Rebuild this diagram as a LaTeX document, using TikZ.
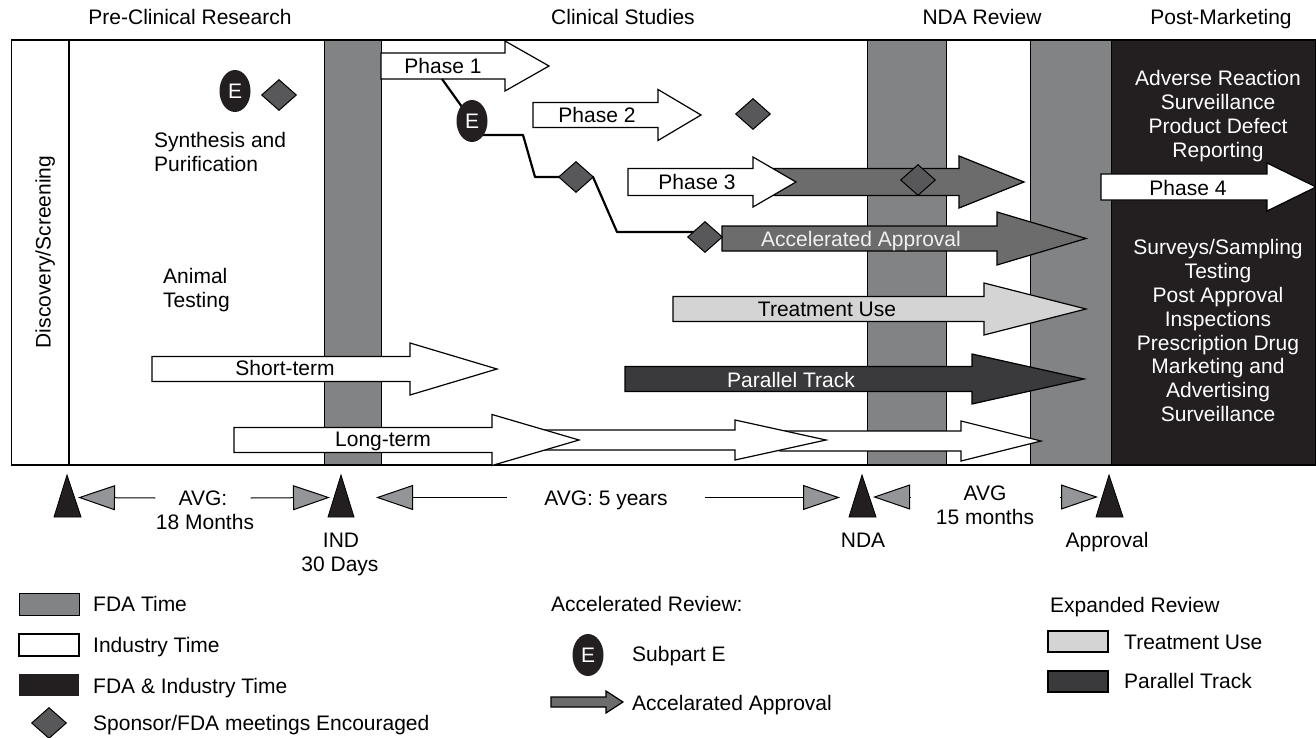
\documentclass[tikz,border=0pt]{standalone}
\usepackage{fontspec}
\setmainfont{Liberation Sans}
\usepackage{tikz}
\usetikzlibrary{arrows.meta,shapes.geometric}
\definecolor{fdagray}{RGB}{130,131,133}
\definecolor{accgray}{RGB}{108,108,108}
\definecolor{metgray}{RGB}{88,88,90}
\definecolor{tipgray}{RGB}{148,149,152}
\definecolor{trtgray}{RGB}{212,212,212}
\definecolor{pargray}{RGB}{58,58,60}
\definecolor{fdablack}{RGB}{35,31,32}
\newcommand{\lblfont}{\fontsize{21}{23.8}\selectfont}
% block arrow: style, left, head base, tip, y, body half, head half
\newcommand{\barrow}[7]{%
  \filldraw[#1] (#2,#5-#6) -- (#3,#5-#6) -- (#3,#5-#7) -- (#4,#5)
    -- (#3,#5+#7) -- (#3,#5+#6) -- (#2,#5+#6) -- cycle;}
\tikzset{%
  tipG/.tip={Triangle[length=37pt,width=25pt,fill=tipgray]},
  lbl/.style={font=\lblfont, inner sep=0pt, text height=15pt, text depth=0pt},
  blk/.style={font=\lblfont, inner sep=0pt, align=center},
  frame/.style={draw=black, line width=1.5pt},
  fdabar/.style={fill=fdagray, draw=black, line width=1pt},
  indarrow/.style={fill=white, draw=black, line width=1.2pt},
  accarrow/.style={fill=accgray, draw=black, line width=1.2pt},
  trtarrow/.style={fill=trtgray, draw=black, line width=1.2pt},
  pararrow/.style={fill=pargray, draw=black, line width=1.2pt},
  meeting/.style={shape=diamond, minimum width=35pt, minimum height=31pt, inner sep=0pt, fill=metgray, draw=black, line width=1pt},
  subE/.style={shape=ellipse, minimum width=31pt, minimum height=42pt, inner sep=0pt, fill=fdablack, text=white, font=\lblfont},
  milestone/.style={fill=fdablack, draw=black, line width=0.8pt},
  track/.style={draw=black, line width=2.2pt, line join=round},
  avgline/.style={draw=black, line width=1pt, -tipG}
}

\begin{document}
\begin{tikzpicture}[x=1pt,y=-1pt]
\useasboundingbox (0,0) rectangle (1316,738);
% headings
\node[lbl] (precl) at (190,17) {Pre-Clinical Research};
\node[lbl] (clin) at (623,17) {Clinical Studies};
\node[lbl] (ndarev) at (982,17) {NDA Review};
\node[lbl] (postm) at (1221,17) {Post-Marketing};
% time bands
\fill[fdablack] (1111,40) rectangle (1316,465);
\filldraw[fdabar] (324,40) rectangle (381,465);
\filldraw[fdabar] (867,40) rectangle (946,465);
\filldraw[fdabar] (1030,40) rectangle (1111,465);
\draw[frame] (11.5,40) rectangle (1316,465);
\draw[frame] (69,40) -- (69,465);
% arrows
\barrow{indarrow}{780}{961}{1041}{441}{10}{20}
\barrow{indarrow}{545}{735}{826}{440}{10}{20}
\barrow{indarrow}{234}{492}{579}{440}{12.5}{25.5}
\barrow{indarrow}{152}{410}{497}{369}{12.5}{26}
\barrow{indarrow}{381}{505}{549}{66}{13}{25}
\barrow{indarrow}{533}{658}{701}{115}{12.5}{25.5}
\barrow{accarrow}{755}{959}{1024}{182}{13.5}{26}
\barrow{indarrow}{628}{753}{796}{182}{13.5}{25}
\barrow{accarrow}{722}{997}{1086}{238.5}{12.5}{26.5}
\barrow{trtarrow}{673}{984}{1086}{309}{12.5}{26}
\barrow{pararrow}{625}{972}{1084}{379}{12.5}{25}
\barrow{indarrow}{1101}{1267}{1316}{187}{13}{24}
\node[lbl] (ph1) at (443,66) {Phase 1};
\node[lbl] (ph2) at (597,115) {Phase 2};
\node[lbl] (ph3) at (697,182) {Phase 3};
\node[lbl] (ph4) at (1188,188) {Phase 4};
\node[lbl, text=white!94!black] (acc) at (861,239) {Accelerated Approval};
\node[lbl] (trt) at (827,309) {Treatment Use};
\node[lbl, text=white] (par) at (791,380) {Parallel Track};
\node[lbl] (short) at (285,368) {Short-term};
\node[lbl] (long) at (383,439) {Long-term};
% subpart E track
\coordinate (p1out) at (442,79);
\coordinate (e2c) at (472,121);
\draw[track] (p1out) -- (e2c) (472,135) -- (523,135) -- (535,177) -- (593,177) -- (617,232) -- (695,232);
\node[subE] (e1) at (235,91) {E};
\node[meeting] (m1) at (279,95) {};
\node[subE] (e2) at (e2c) {E};
\node[meeting] (m2) at (753,114) {};
\node[meeting] (m3) at (576,177) {};
\node[meeting] (m4) at (918,180) {};
\node[meeting] (m5) at (705,237) {};
% texts in the bands
\node[lbl, rotate=90] (disc) at (43,252) {Discovery/Screening};
\node[blk, align=left, anchor=north west] (synth) at (154,132.5) {Synthesis and\\Purification};
\node[blk, align=left, anchor=north west] (animal) at (163,268.5) {Animal\\Testing};
\node[blk, text=white, anchor=north] (post1) at (1218,70.5) {Adverse Reaction\\Surveillance\\Product Defect\\Reporting};
\node[blk, text=white, anchor=north] (post2) at (1218,239.5) {Surveys/Sampling\\Testing\\Post Approval\\Inspections\\Prescription Drug\\Marketing and\\Advertising\\Surveillance};
% milestones
\filldraw[milestone] (54,517) -- (67,475) -- (81,517) -- cycle;
\filldraw[milestone] (328,517) -- (341,475) -- (354,517) -- cycle;
\filldraw[milestone] (849,517) -- (862,475) -- (876,517) -- cycle;
\filldraw[milestone] (1096,517) -- (1109,475) -- (1123,517) -- cycle;
\coordinate (t1) at (78,497.5);
\coordinate (t2) at (330,497.5);
\coordinate (t3) at (376,497.5);
\coordinate (t4) at (840,497.5);
\coordinate (t5) at (873,497);
\coordinate (t6) at (1098,497);
\node[lbl, inner xsep=23pt] (avg1) at (203,498) {AVG:};
\node[lbl] (m18) at (205,522) {18 Months};
\draw[avgline] (avg1.west) -- (t1);
\draw[avgline] (avg1.east) -- (t2);
\node[lbl] (ind) at (341,540) {IND};
\node[lbl] (days) at (340,564) {30 Days};
\node[lbl, inner xsep=37pt] (avg2) at (606,497.5) {AVG: 5 years};
\draw[avgline] (avg2.west) -- (t3);
\draw[avgline] (avg2.east) -- (t4);
\node[lbl] (nda) at (863,540) {NDA};
\node[lbl, inner xsep=53pt] (avg3) at (985,493) {AVG};
\node[lbl] (m15) at (985,517) {15 months};
\draw[avgline] (avg3.west |- t5) -- (t5);
\draw[avgline] (avg3.east |- t6) -- (t6);
\node[lbl] (appr) at (1107,540) {Approval};
% legend
\filldraw[fdabar] (19,593) rectangle (79,615);
\node[lbl, anchor=west] (lfda) at (93,604) {FDA Time};
\filldraw[indarrow] (19,634) rectangle (79,656);
\node[lbl, anchor=west] (lind) at (93,645) {Industry Time};
\fill[fdablack] (19,674) rectangle (79,696);
\node[lbl, anchor=west] (lboth) at (93,686) {FDA \& Industry Time};
\node[meeting] (lmeet) at (49,723) {};
\node[lbl, anchor=west] (lspon) at (93,723) {Sponsor/FDA meetings Encouraged};
\node[lbl, anchor=west] (lacc) at (551,604) {Accelerated Review:};
\node[subE] (le) at (588,655) {E};
\node[lbl, anchor=west] (lsub) at (632,654) {Subpart E};
\barrow{accarrow}{551}{606}{623}{702}{5}{11}
\node[lbl, anchor=west] (lacca) at (632,703) {Accelarated Approval};
\node[lbl, anchor=west] (lexp) at (1050,605) {Expanded Review};
\filldraw[trtarrow] (1048,631) rectangle (1108,652);
\node[lbl, anchor=west] (ltrt) at (1124,642) {Treatment Use};
\filldraw[pararrow] (1048,671) rectangle (1108,692);
\node[lbl, anchor=west] (lpar) at (1124,681) {Parallel Track};
\end{tikzpicture}
\end{document}
